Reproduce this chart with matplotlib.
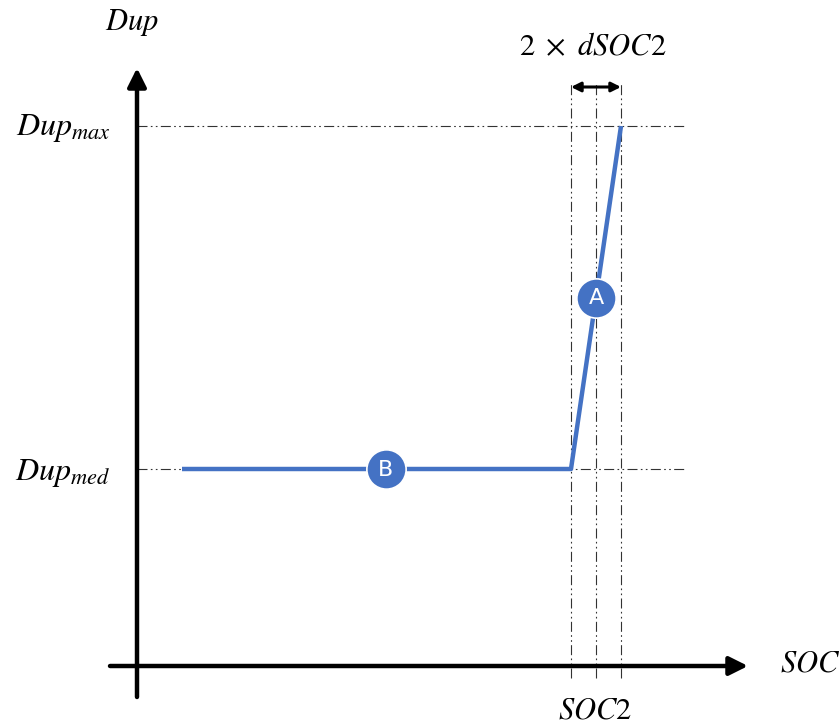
import matplotlib
matplotlib.use("Agg")
import matplotlib.pyplot as plt

plt.rcParams['mathtext.fontset'] = 'stix'

# Data (arbitrary units; origin at axis crossing)
soc_start = 45
soc2 = 459
dsoc2 = 25
dup_med = 197
dup_max = 540
line_x = [soc_start, soc2 - dsoc2, soc2 + dsoc2]
line_y = [dup_med, dup_med, dup_max]
marker_labels = ["A", "B"]
marker_x = [soc2, 249]
marker_y = [(dup_med + dup_max) / 2, dup_med]

BLUE = "#4472C4"

fig = plt.figure(figsize=(8.4, 7.26), dpi=100)
ax = fig.add_axes([0, 0, 1, 1])
ax.set_xlim(-137, 703)
ax.set_ylim(-60, 666)
ax.axis('off')

# reference dash-dot-dot lines
dd = (0, (9, 3, 1.5, 3, 1.5, 3))
for yv in [dup_med, dup_max]:
    ax.plot([0, 547], [yv, yv], color='#333333', lw=0.8, ls=dd)
for xv in [soc2 - dsoc2, soc2, soc2 + dsoc2]:
    ax.plot([xv, xv], [-12, 584], color='#333333', lw=0.8, ls=dd)

# axes arrows
ax.annotate('', xy=(611, 0), xytext=(-27, 0),
            arrowprops=dict(arrowstyle='-|>', lw=3.2, color='black',
                            mutation_scale=28, shrinkA=0, shrinkB=0))
ax.annotate('', xy=(0, 598), xytext=(0, -31),
            arrowprops=dict(arrowstyle='-|>', lw=3.2, color='black',
                            mutation_scale=28, shrinkA=0, shrinkB=0))

# double arrow 2 x dSOC2
ax.annotate('', xy=(soc2 + dsoc2, 579), xytext=(soc2 - dsoc2, 579),
            arrowprops=dict(arrowstyle='<|-|>', lw=2.2, color='black',
                            mutation_scale=14, shrinkA=0, shrinkB=0))

# blue curve
ax.plot(line_x, line_y, color=BLUE, lw=3.2, solid_capstyle='butt', zorder=3)

# markers
for lab, mx, my in zip(marker_labels, marker_x, marker_y):
    ax.scatter([mx], [my], s=800, color=BLUE, edgecolor='white', lw=1.2, zorder=4)
    ax.text(mx, my - 1, lab, color='white', fontsize=16, ha='center', va='center',
            family='DejaVu Sans', zorder=5)

# labels
fs = 22
ax.text(-5, 644, r'$Dup$', fontsize=fs, ha='center', va='center')
ax.text(-74, dup_max - 2, r'$Dup_{max}$', fontsize=fs + 1, ha='center', va='center')
ax.text(-74, dup_med - 4, r'$Dup_{med}$', fontsize=fs + 1, ha='center', va='center')
ax.text(soc2 - 3, 619, r'$2\ \times\ dSOC2$', fontsize=fs, ha='center', va='center')
ax.text(673, 3, r'$SOC$', fontsize=fs, ha='center', va='center')
ax.text(soc2 - 1, -44, r'$SOC2$', fontsize=fs, ha='center', va='center')

fig.savefig('out.png', dpi=100)
